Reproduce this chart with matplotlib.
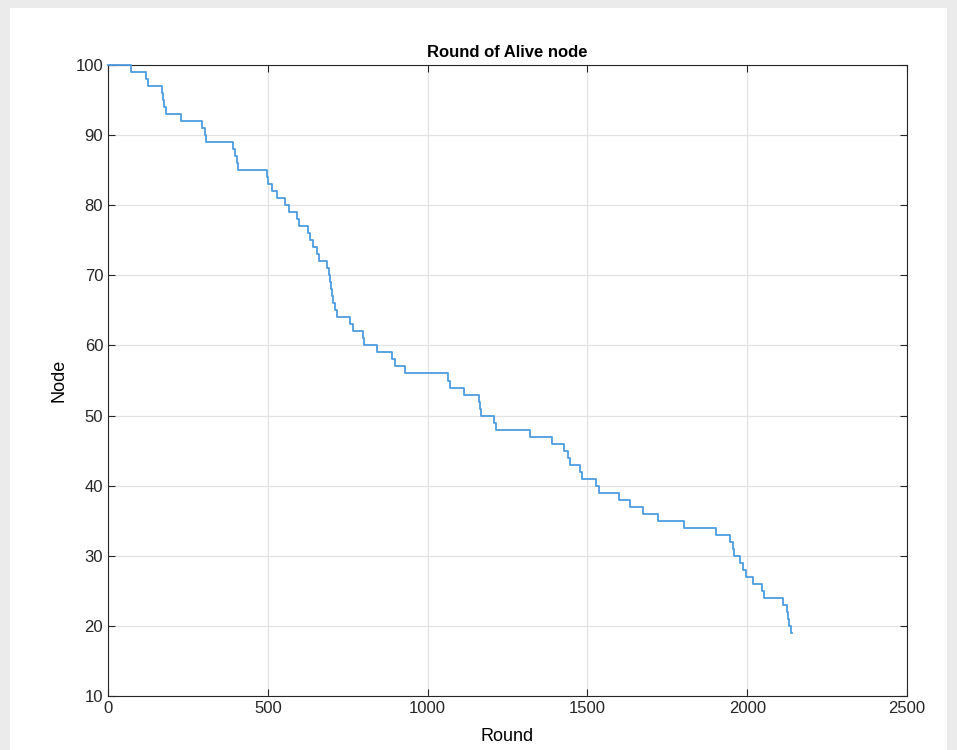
import matplotlib.pyplot as plt
from matplotlib.patches import Rectangle

# rounds at which one node died (alive count drops by 1 at each)
death_rounds = [73, 120, 125, 168, 172, 176, 180, 229, 294, 302, 307,
                391, 396, 403, 406, 497, 502, 512, 530, 555, 565, 590, 597,
                625, 632, 640, 655, 660, 685, 692, 695, 698, 701, 704,
                709, 715, 758, 767, 799, 801, 841, 890, 897, 928,
                1065, 1071, 1114, 1162, 1164, 1166, 1207, 1215, 1320, 1390,
                1428, 1440, 1445, 1478, 1482, 1528, 1536, 1598, 1633, 1675,
                1722, 1802, 1902, 1947, 1955, 1960, 1978, 1986, 1997, 2018,
                2047, 2054, 2112, 2124, 2129, 2132, 2137]
n_nodes = 100
last_round = 2140

x_ticks = [0, 500, 1000, 1500, 2000, 2500]
y_ticks = [10, 20, 30, 40, 50, 60, 70, 80, 90, 100]

rounds = [0] + death_rounds + [last_round]
alive = [n_nodes - i for i in range(len(death_rounds) + 1)]
alive.append(alive[-1])

plt.rcParams['font.family'] = ['Liberation Sans', 'DejaVu Sans']

fig = plt.figure(figsize=(9.57, 7.5), dpi=100, facecolor='#ebebeb')
fig.patches.append(Rectangle((10 / 957, 0), 937 / 957, 742 / 750,
                             transform=fig.transFigure, facecolor='white',
                             edgecolor='none', zorder=-1))

ax = fig.add_axes([108 / 957, 1 - 696 / 750, 799 / 957, 631 / 750])
ax.step(rounds, alive, where='post', color='#4d9de0', lw=1.3,
        clip_on=False, zorder=5)

ax.set_xlim(0, 2500)
ax.set_ylim(10, 100)
ax.set_xticks(x_ticks)
ax.set_yticks(y_ticks)
ax.grid(True, color='#e3e3e3', lw=0.9)
ax.set_axisbelow(True)
ax.tick_params(direction='in', top=True, right=True, length=5,
               labelsize=12, color='#262626', labelcolor='#262626')
for s in ax.spines.values():
    s.set_color('#262626')
    s.set_linewidth(0.8)

ax.set_title('Round of Alive node', fontsize=12, fontweight='bold', pad=6)
ax.set_xlabel('Round', fontsize=13, labelpad=9)
ax.set_ylabel('Node', fontsize=13, labelpad=6)

fig.savefig('out.png', dpi=100, facecolor=fig.get_facecolor())
